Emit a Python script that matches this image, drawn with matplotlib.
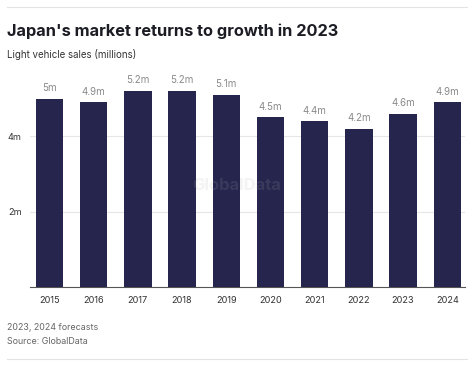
import matplotlib
matplotlib.use("Agg")
import matplotlib.pyplot as plt
from matplotlib.lines import Line2D

years = ["2015", "2016", "2017", "2018", "2019", "2020", "2021", "2022", "2023", "2024"]
sales = [5.0, 4.9, 5.2, 5.2, 5.1, 4.5, 4.4, 4.2, 4.6, 4.9]
bar_labels = ["5m", "4.9m", "5.2m", "5.2m", "5.1m", "4.5m", "4.4m", "4.2m", "4.6m", "4.9m"]
y_ticks = [2, 4]
y_tick_labels = ["2m", "4m"]

plt.rcParams['font.family'] = ['Inter', 'DejaVu Sans']

W, H = 474, 367
fig = plt.figure(figsize=(W / 100, H / 100), dpi=100)
fig.patch.set_facecolor("white")

# axes placed in pixel coords of the reference
left, right, bottom, top = 30, 465, 287.3, 74
ax = fig.add_axes([left / W, 1 - bottom / H, (right - left) / W, (bottom - top) / H])

x = list(range(len(years)))
ax.bar(x, sales, width=0.62, color="#25254d", zorder=3)
for xi, v, lab in zip(x, sales, bar_labels):
    ax.annotate(lab, (xi, v), xytext=(0, 4), textcoords="offset points",
                ha="center", va="bottom", fontsize=7, color="#8a8a8a")

ax.set_xlim(-0.44, 9.40)
ax.set_ylim(0, 5.65)
ax.set_yticks(y_ticks)
ax.set_yticklabels(y_tick_labels)
ax.set_xticks(x)
ax.set_xticklabels(years)
ax.tick_params(axis="both", length=0, labelsize=6.6, colors="#333333")
ax.tick_params(axis="x", pad=6)
ax.tick_params(axis="y", pad=6)
ax.grid(axis="y", color="#e6e6e6", linewidth=0.8, zorder=0)
for s in ["top", "right", "left"]:
    ax.spines[s].set_visible(False)
ax.spines["bottom"].set_color("#555555")
ax.spines["bottom"].set_linewidth(0.8)

# watermark, faint over bars and background
fig.text(237 / W, 1 - 185 / H, "GlobalData", ha="center", va="center",
         fontsize=12, fontweight="bold", color="#b0b0b0", alpha=0.15, zorder=5)

fig.text(7 / W, 1 - 31 / H, "Japan's market returns to growth in 2023",
         fontsize=11.8, fontweight="bold", color="#1c1c24", va="center")
fig.text(7 / W, 1 - 55 / H, "Light vehicle sales (millions)",
         fontsize=7, color="#333333", va="center")
fig.text(7 / W, 1 - 327 / H, "2023, 2024 forecasts",
         fontsize=6.4, color="#666666", va="center")
fig.text(7 / W, 1 - 342 / H, "Source: GlobalData",
         fontsize=6.4, color="#666666", va="center")

fig.add_artist(Line2D([7 / W, 467 / W], [1 - 7 / H] * 2, color="#e4e4e4", linewidth=0.8))
fig.add_artist(Line2D([7 / W, 467 / W], [1 - 359 / H] * 2, color="#e4e4e4", linewidth=0.8))

fig.savefig("out.png", dpi=100)
